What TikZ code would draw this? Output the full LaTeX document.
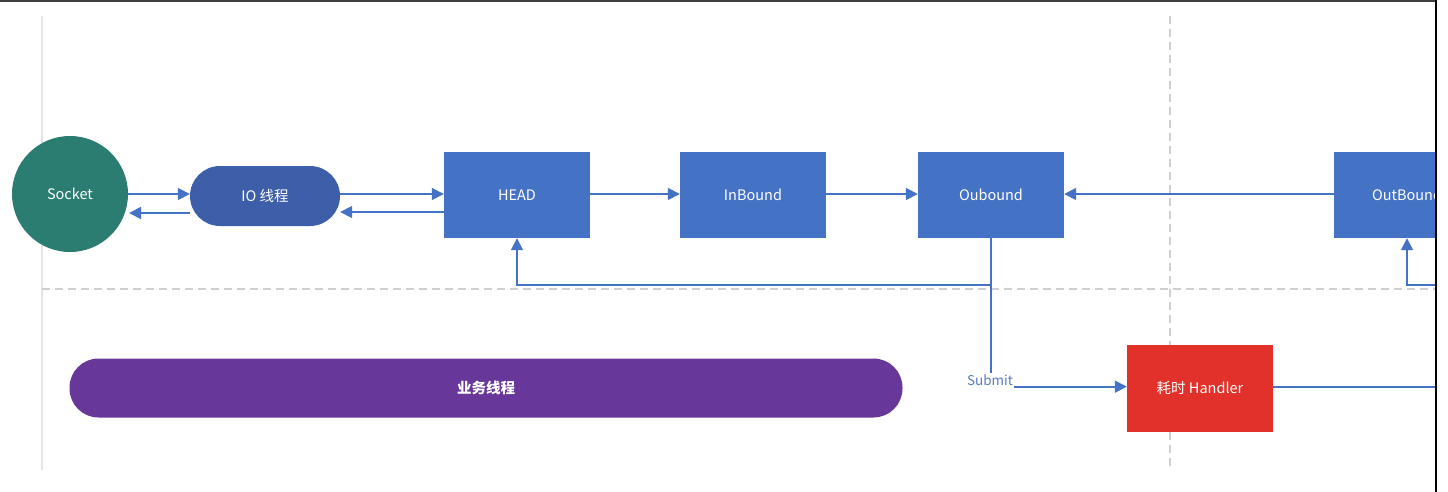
\documentclass[tikz,border=0pt]{standalone}
\usepackage{fontspec}
\setmainfont{Noto Sans CJK SC}
\usetikzlibrary{arrows.meta,calc}
\definecolor{nblue}{HTML}{4472C4}
\definecolor{ioblue}{HTML}{3D5EA8}
\definecolor{teal1}{HTML}{2A7D70}
\definecolor{purp}{HTML}{67379A}
\definecolor{hred}{HTML}{E2302A}
\definecolor{gline}{HTML}{CFCFCF}
\definecolor{lblue}{HTML}{5A7CC0}
\tikzset{
  x=1pt,y=-1pt,
  lbl/.style={font=\fontsize{14.5}{16}\selectfont,text=white},
  blk/.style={rectangle,fill=nblue,minimum width=146pt,minimum height=86pt,inner sep=0pt,lbl},
  conn/.style={draw=nblue,line width=1.7pt},
  arr/.style={conn,-{Triangle[length=12pt,width=12pt]}},
  sep/.style={draw=gline,line width=1.5pt,dash pattern=on 8pt off 5pt},
}
\begin{document}
\begin{tikzpicture}
\useasboundingbox (0,0) rectangle (1448,492);
\fill[white] (0,0) rectangle (1448,492);
% separators
\draw[draw=gline!55,line width=1.2pt] (42,16) -- (42,470);
\draw[sep] (1170,16) -- (1170,468);
\draw[sep] (42,289) -- (1436,289);
% nodes
\node[circle,fill=teal1,minimum size=116pt,inner sep=0pt,lbl] (sock) at (70,194) {Socket};
\node[rectangle,rounded corners=30pt,fill=ioblue,minimum width=150pt,minimum height=60pt,inner sep=0pt,lbl] (io) at (265,196) {IO 线程};
\node[blk] (head) at (517,195) {HEAD};
\node[blk] (inb) at (753,195) {InBound};
\node[blk] (oub) at (991,195) {Oubound};
\begin{scope}
\clip (1300,100) rectangle (1436,260);
\node[blk] (outb) at (1407,195) {OutBound};
\end{scope}
\node[rectangle,fill=hred,minimum width=146pt,minimum height=87pt,inner sep=0pt,lbl] (hand) at (1200,388) {耗时 Handler};
\node[rectangle,rounded corners=29pt,fill=purp,minimum width=833pt,minimum height=59pt,inner sep=0pt,lbl,font=\fontsize{14.5}{16}\selectfont\bfseries] (biz) at (486,388) {业务线程};
\node[inner sep=1pt,font=\fontsize{13.5}{15}\selectfont,text=lblue] (sub) at (990,380) {Submit};
% coordinates
\coordinate (j1) at (991,285);
\coordinate (re1) at (1436,285);
\coordinate (re2) at (1436,387);
% connectors
\draw[arr] (sock.east |- 0,194) -- (io.west |- 0,194);
\draw[arr] (io.west |- 0,213) -- (129,213);
\draw[arr] (io.east |- 0,194) -- (head.west |- 0,194);
\draw[arr] (head.west |- 0,212) -- (io.east |- 0,212);
\draw[arr] (head.east |- 0,194) -- (inb.west |- 0,194);
\draw[arr] (inb.east |- 0,194) -- (oub.west |- 0,194);
\draw[arr] (1334,194) -- (oub.east |- 0,194);
\draw[arr] (oub.south) -- (j1) -| (head.south);
\draw[conn] (j1) -- (sub.north -| j1);
\draw[arr] (sub.south east) -- (sub.south east -| hand.west);
\draw[conn] (hand.east |- re2) -- (re2);
\draw[arr] (re1) -| (outb.south);
% frame
\draw[draw=black!75,line width=1.5pt] (0,1) -- (1436,1);
\draw[draw=black,line width=1.5pt] (1436,0) -- (1436,492);
\end{tikzpicture}
\end{document}
